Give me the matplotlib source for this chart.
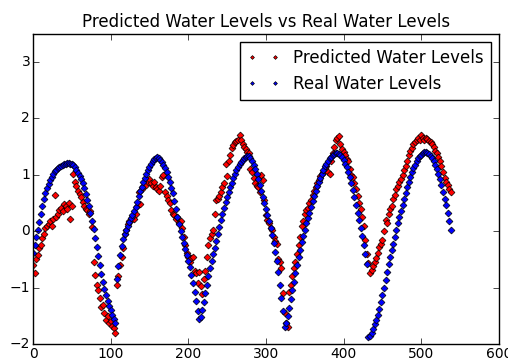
import numpy as np
import matplotlib
matplotlib.use("Agg")
from matplotlib import pyplot as plt

plt.style.use("classic")

# sample index (every 2nd point)
x = np.arange(0, 540, 2)

real = [
    # 0 - 106
    -0.39, -0.25, -0.11, 0.03, 0.17, 0.31, 0.45, 0.57, 0.67, 0.76,
    0.84, 0.91, 0.97, 1.02, 1.06, 1.09, 1.12, 1.14, 1.16, 1.18,
    1.19, 1.20, 1.21, 1.21, 1.20, 1.19, 1.17, 1.13, 1.09, 1.04,
    0.98, 0.92, 0.85, 0.76, 0.66, 0.56, 0.45, 0.33, 0.18, 0.04,
    -0.12, -0.28, -0.44, -0.60, -0.76, -0.90, -1.02, -1.13, -1.23, -1.32,
    -1.40, -1.48, -1.55, -1.62,
    # 108 - 214
    -0.85, -0.62, -0.42, -0.26, -0.14, -0.05, 0.03, 0.10, 0.17, 0.23,
    0.29, 0.35, 0.43, 0.52, 0.62, 0.71, 0.79, 0.87, 0.95, 1.02,
    1.08, 1.14, 1.19, 1.24, 1.28, 1.30, 1.31, 1.30, 1.27, 1.23,
    1.18, 1.12, 1.05, 0.96, 0.87, 0.77, 0.67, 0.53, 0.39, 0.25,
    0.12, 0.01, -0.10, -0.21, -0.32, -0.43, -0.53, -0.63, -0.77, -0.92,
    -1.08, -1.24, -1.42, -1.55,
    # 216 - 322
    -1.52, -1.40, -1.25, -1.10, -0.95, -0.80, -0.66, -0.53, -0.41, -0.29,
    -0.17, -0.05, 0.07, 0.19, 0.31, 0.42, 0.52, 0.61, 0.70, 0.78,
    0.86, 0.94, 1.01, 1.08, 1.14, 1.19, 1.23, 1.26, 1.29, 1.31,
    1.33, 1.33, 1.30, 1.25, 1.18, 1.10, 1.01, 0.92, 0.82, 0.72,
    0.61, 0.50, 0.40, 0.29, 0.18, 0.06, -0.07, -0.21, -0.36, -0.53,
    -0.73, -0.95, -1.18, -1.42,
    # 324 - 430
    -1.70, -1.62, -1.50, -1.36, -1.20, -1.05, -0.90, -0.75, -0.60, -0.46,
    -0.33, -0.20, -0.08, 0.03, 0.14, 0.24, 0.33, 0.43, 0.53, 0.62,
    0.71, 0.80, 0.88, 0.95, 1.02, 1.09, 1.15, 1.20, 1.25, 1.29,
    1.32, 1.35, 1.37, 1.38, 1.38, 1.37, 1.35, 1.31, 1.26, 1.20,
    1.13, 1.05, 0.96, 0.85, 0.73, 0.60, 0.47, 0.33, 0.19, 0.05,
    -0.09, -0.24, -0.40, -0.58,
    # 432 - 538
    -1.88, -1.85, -1.80, -1.73, -1.65, -1.57, -1.48, -1.38, -1.26, -1.13,
    -1.00, -0.87, -0.73, -0.59, -0.46, -0.34, -0.22, -0.10, 0.02, 0.14,
    0.25, 0.36, 0.47, 0.58, 0.68, 0.78, 0.88, 0.97, 1.05, 1.12,
    1.18, 1.24, 1.29, 1.33, 1.36, 1.38, 1.40, 1.40, 1.39, 1.37,
    1.34, 1.30, 1.25, 1.18, 1.10, 1.01, 0.92, 0.82, 0.70, 0.58,
    0.46, 0.32, 0.18, 0.03,
]

predicted = [
    # 0 - 106
    -0.60, -0.75, -0.50, -0.42, -0.30, -0.25, -0.12, -0.05, 0.05, 0.10,
    0.12, 0.18, 0.10, 0.22, 0.65, 0.25, 0.30, 0.38, 0.42, 0.35,
    0.48, 0.45, 0.40, 0.50, 0.22, 0.45, 1.02, 0.88, 0.80, 0.72,
    0.66, 0.60, 0.52, 0.45, 0.40, 0.38, 0.30, 0.35, 0.08, -0.55,
    -0.78, -0.95, -1.05, -1.18, -1.35, -1.30, -1.45, -1.58, -1.50, -1.62,
    -1.60, -1.68, -1.72, -1.80,
    # 108 - 214
    -0.95, -0.80, -0.60, -0.45, -0.30, -0.05, 0.02, 0.12, 0.18, 0.20,
    0.25, 0.22, 0.30, 0.45, 0.70, 0.48, 0.75, 0.80, 0.85, 0.82,
    0.88, 0.92, 0.85, 0.80, 0.88, 0.78, 0.75, 0.72, 0.80, 0.96,
    1.00, 0.70, 0.62, 0.55, 0.50, 0.38, 0.30, 0.28, 0.22, 0.25,
    0.15, 0.18, 0.05, -0.10, -0.25, -0.38, -0.45, -0.55, -0.48, -0.45,
    -0.70, -0.75, -0.92, -0.72,
    # 216 - 322
    -0.98, -1.12, -0.85, -0.70, -0.45, -0.25, -0.12, -0.05, 0.02, 0.30,
    0.55, 0.58, 0.62, 0.70, 0.78, 0.85, 1.20, 0.98, 1.25, 1.35,
    1.48, 1.52, 1.58, 1.60, 1.62, 1.70, 1.62, 1.55, 1.50, 1.45,
    1.40, 1.38, 1.10, 1.05, 0.95, 0.85, 0.80, 0.78, 0.70, 1.00,
    0.90, 0.55, 0.28, 0.20, 0.15, 0.05, 0.02, -0.10, -0.18, -0.22,
    -0.50, -0.55, -0.65, -1.10,
    # 324 - 430
    -1.45, -1.62, -1.70, -1.07, -0.95, -0.80, -0.65, -0.55, -0.40, -0.25,
    -0.10, 0.10, 0.18, 0.30, 0.38, 0.42, 0.50, 0.55, 0.65, 0.72,
    0.78, 0.85, 0.90, 0.98, 1.02, 1.05, 1.12, 1.15, 1.05, 1.02,
    1.25, 1.38, 1.50, 1.62, 1.65, 1.68, 1.55, 1.45, 1.40, 1.35,
    1.28, 1.25, 1.10, 1.00, 0.96, 0.85, 0.75, 0.62, 0.50, 0.40,
    0.25, 0.10, -0.15, -0.40,
    # 432 - 538
    -0.57, -0.74, -0.68, -0.62, -0.55, -0.48, -0.38, -0.28, -0.22, -0.16,
    0.00, 0.19, 0.14, 0.30, 0.40, 0.45, 0.58, 0.65, 0.75, 0.80,
    0.88, 0.92, 1.00, 1.08, 1.15, 1.25, 1.35, 1.43, 1.48, 1.55,
    1.58, 1.62, 1.65, 1.62, 1.70, 1.66, 1.62, 1.65, 1.64, 1.60,
    1.58, 1.55, 1.50, 1.43, 1.38, 1.31, 1.25, 1.15, 1.05, 0.95,
    0.88, 0.82, 0.75, 0.70,
]

fig = plt.figure(figsize=(5.08, 3.64), dpi=100, facecolor="white")
ax = fig.add_axes([0.065, 0.055, 0.917, 0.852])

ax.plot(x, predicted, "rD", markersize=3.5, markeredgewidth=0.5,
        markeredgecolor="black", label="Predicted Water Levels")
ax.plot(x, real, "bD", markersize=3.5, markeredgewidth=0.5,
        markeredgecolor="black", label="Real Water Levels")

ax.set_xlim(0, 600)
ax.set_ylim(-2, 3.5)
ax.set_yticks([-2, -1, 0, 1, 2, 3])
ax.tick_params(labelsize=10, pad=2)
ax.set_title("Predicted Water Levels vs Real Water Levels", fontsize=12)
ax.legend(loc="upper right", numpoints=2, markerscale=0.55, fontsize=12)

fig.savefig("out.png", dpi=100, facecolor="white")
